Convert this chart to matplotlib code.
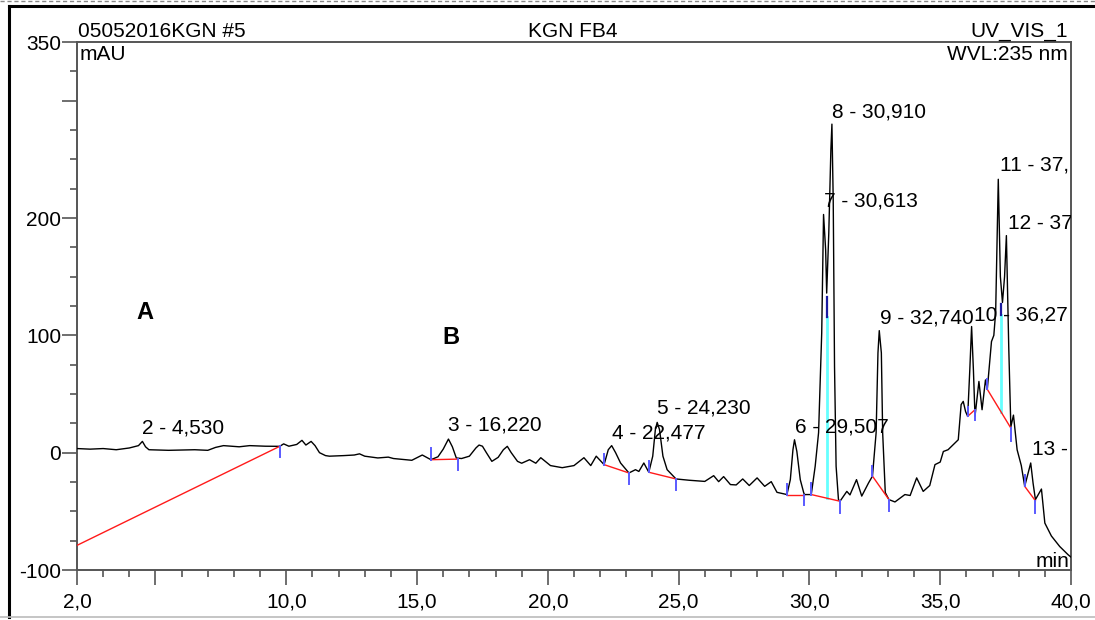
import matplotlib
matplotlib.use("Agg")
import matplotlib.pyplot as plt
from matplotlib.lines import Line2D
from matplotlib.ticker import MultipleLocator

plt.rcParams["font.family"] = ["Liberation Sans", "DejaVu Sans"]

# chromatogram trace, UV 235 nm (min, mAU)
time_min = [
    2.00, 2.5, 3.0, 3.5, 4.0, 4.35, 4.50, 4.62, 4.75, 5.5, 6.5, 7.0, 7.3, 7.6,
    8.2, 8.6, 9.2, 9.75, 9.9, 10.1, 10.4, 10.6, 10.75, 10.95, 11.1, 11.27,
    11.5, 11.65, 12.2, 12.6, 12.8, 13.0, 13.5, 13.9, 14.1, 14.8, 15.2, 15.53,
    15.8, 16.0, 16.2, 16.35, 16.5, 16.7, 17.0, 17.25, 17.37, 17.5, 17.65,
    17.86, 18.1, 18.3, 18.45, 18.6, 18.84, 19.0, 19.3, 19.54, 19.73, 20.1,
    20.55, 21.0, 21.38, 21.64, 21.85, 22.15, 22.31, 22.44, 22.59, 22.78,
    23.1, 23.35, 23.48, 23.67, 23.86, 24.01, 24.11, 24.18, 24.27, 24.4,
    24.56, 24.9, 25.4, 26.0, 26.34, 26.53, 26.72, 26.98, 27.2, 27.45, 27.7,
    28.0, 28.29, 28.54, 28.76, 29.14, 29.27, 29.37, 29.43, 29.52, 29.65,
    29.78, 29.81, 30.07, 30.22, 30.35, 30.47, 30.54, 30.62, 30.66, 30.74,
    30.82, 30.86, 30.91, 30.96, 31.02, 31.11, 31.17, 31.43, 31.55, 31.8,
    32.0, 32.26, 32.41, 32.55, 32.62, 32.67, 32.75, 32.8, 32.9, 33.04,
    33.27, 33.65, 33.85, 34.1, 34.35, 34.6, 34.8, 35.0, 35.12, 35.3, 35.5,
    35.69, 35.8, 35.88, 35.97, 36.05, 36.13, 36.2, 36.27, 36.33, 36.48,
    36.6, 36.73, 36.8, 36.96, 37.05, 37.12, 37.22, 37.3, 37.38, 37.46,
    37.53, 37.62, 37.7, 37.8, 37.94, 38.1, 38.23, 38.33, 38.46, 38.55,
    38.64, 38.87, 39.0, 39.25, 39.57, 39.89, 40.0,
]
mau = [
    3.5, 3.0, 3.5, 2.5, 4.0, 6.0, 9.6, 5.0, 2.5, 2.0, 2.5, 2.0, 4.5, 6.0,
    5.0, 6.0, 5.5, 5.4, 7.5, 5.5, 7.0, 10.5, 6.5, 9.6, 6.0, 0.0,
    -2.5, -3.0, -2.5, -2.0, -1.0, -3.0, -4.5, -3.8, -5.0, -6.5, -2.0, -6.0,
    -3.5, 3.0, 11.6, 5.0, -4.5, -5.0, -3.0, 4.0, 6.5, 5.5, 0.0,
    -7.4, -4.0, 2.5, 5.4, 0.0, -7.4, -9.0, -6.0, -9.0, -4.3, -11.0,
    -12.8, -11.0, -4.3, -11.0, -3.0, -10.2, 2.5, 6.0, 0.0, -8.8,
    -17.3, -14.5, -16.0, -8.8, -16.7, -3.0, 19.6, 25.8, 19.6, -3.0,
    -14.5, -22.4, -23.5, -24.5, -19.6, -24.7, -20.4, -27.2, -27.5, -22.4, -28.0,
    -21.5, -28.7, -24.7, -33.8, -35.7, -23.0, 2.5, 11.0, 1.0, -23.0,
    -34.0, -35.7, -35.7, -11.6, 17.0, 102.0, 203.0, 173.0, 136.0, 187.0,
    258.0, 280.0, 215.0, 73.0, -11.6, -40.0, -41.4, -33.0, -36.0, -23.0,
    -37.0, -25.8, -20.0, 17.0, 85.0, 104.0, 85.0, 17.0, -34.0, -40.0,
    -42.0, -35.7, -36.5, -21.5, -33.0, -28.0, -10.2, -8.0, 1.0, 2.5, 6.8,
    11.0, 41.0, 43.7, 35.0, 31.0, 70.0, 107.5, 70.0, 31.0, 60.7,
    36.6, 62.0, 54.0, 94.7, 100.0, 120.0, 233.0, 150.0, 128.0, 150.0,
    185.0, 90.0, 22.0, 32.0, 2.5, -11.0, -28.7, -20.0, -8.8, -26.0,
    -40.0, -31.0, -60.0, -71.0, -80.0, -87.0, -89.0,
]

# integration baselines (t0, v0, t1, v1)
base_t0 = [2.0, 15.53, 22.15, 23.86, 29.14, 30.07, 32.41, 36.05, 36.8, 38.23]
base_v0 = [-79.0, -6.0, -10.2, -16.7, -35.7, -35.7, -20.0, 31.0, 54.0, -28.7]
base_t1 = [9.75, 16.55, 23.1, 24.9, 29.81, 31.17, 33.04, 36.33, 37.7, 38.64]
base_v1 = [5.4, -5.5, -17.3, -22.4, -35.7, -41.4, -40.0, 36.6, 21.0, -41.0]

# peak delimiters (t, from, to)
delim_t = [9.75, 15.53, 16.55, 22.15, 23.1, 23.86, 24.9, 29.14, 29.81,
           30.07, 31.17, 32.41, 33.04, 36.05, 36.33, 36.8, 37.7, 38.23, 38.64]
delim_lo = [5.4, -6.0, -5.5, -10.2, -17.3, -16.7, -22.4, -35.7, -35.7,
            -35.7, -41.4, -20.0, -40.0, 31.0, 36.6, 54.0, 21.0, -28.7, -41.0]
delim_hi = [-4.0, 4.0, -14.5, -1.0, -27.0, -7.4, -32.0, -26.4, -45.0,
            -26.0, -51.0, -11.6, -50.0, 39.0, 28.0, 63.0, 10.0, -19.0, -51.0]

# drop lines between unresolved peaks (t, baseline, valley)
drop_t = [30.66, 37.32]
drop_lo = [-38.6, 35.0]
drop_hi = [116.0, 117.0]
valley_hi = [133.0, 127.0]

# peak labels: text, retention time, label height (right-hand ones run off the plot)
peak_text = ["2 - 4,530", "3 - 16,220", "4 - 22,477", "5 - 24,230",
             "6 - 29,507", "7 - 30,613", "8 - 30,910", "9 - 32,740",
             "10 - 36,27", "11 - 37,", "12 - 37", "13 -"]
peak_t = [4.50, 16.20, 22.44, 24.18, 29.43, 30.57, 30.86, 32.70,
          36.28, 37.28, 37.60, 38.49]
peak_y = [16.2, 18.7, 11.9, 33.0, 17.3, 210.0, 286.0, 109.8,
          113.0, 240.8, 191.0, -1.7]

xtick_pos = [2, 5, 10, 15, 20, 25, 30, 35, 40]
xtick_lab = ["2,0", "", "10,0", "15,0", "20,0", "25,0", "30,0", "35,0", "40,0"]
ytick_pos = [-100, 0, 100, 200, 300, 350]
ytick_lab = ["-100", "0", "100", "200", "", "350"]

FS = 15
W, H = 1095, 620
fig = plt.figure(figsize=(W / 100, H / 100), dpi=100)
ax = fig.add_axes([77 / W, 1 - 570 / H, (1071 - 77) / W, (570 - 42) / H])

ax.plot(time_min, mau, color="black", lw=1.0, zorder=3)

for t0, v0, t1, v1 in zip(base_t0, base_v0, base_t1, base_v1):
    ax.plot([t0, t1], [v0, v1], color="#ff1a1a", lw=1.0, zorder=4)
for t, lo, hi in zip(delim_t, delim_lo, delim_hi):
    ax.plot([t, t], [lo, hi], color="#5a5aff", lw=1.4, zorder=5)
for t, lo, hi, vh in zip(drop_t, drop_lo, drop_hi, valley_hi):
    ax.plot([t, t], [lo, hi], color="#66ffff", lw=2.0, zorder=2)
    ax.plot([t, t], [hi, vh], color="#1a1aa0", lw=1.6, zorder=5)

for s, t, y in zip(peak_text, peak_t, peak_y):
    ax.text(t, y, s, fontsize=FS, ha="left", va="baseline", clip_on=True)

ax.text(4.6, 119.5, "A", fontsize=17, fontweight="bold", ha="center", va="center")
ax.text(16.3, 98.5, "B", fontsize=17, fontweight="bold", ha="center", va="center")

ax.set_xlim(2, 40)
ax.set_ylim(-100, 350)
ax.set_xticks(xtick_pos)
ax.set_xticklabels(xtick_lab)
ax.set_yticks(ytick_pos)
ax.set_yticklabels(ytick_lab)
ax.xaxis.set_minor_locator(MultipleLocator(1))
ax.yaxis.set_minor_locator(MultipleLocator(25))
ax.tick_params(which="major", length=11, width=1.2, color="#555555",
               labelsize=FS, direction="out")
ax.tick_params(which="minor", length=5, width=1.2, color="#555555",
               direction="out")
ax.tick_params(axis="x", which="major", pad=5)
ax.tick_params(axis="y", which="major", pad=0.5)
for sp in ax.spines.values():
    sp.set_color("#555555")
    sp.set_linewidth(1.4)

# header and unit captions
def ftext(x, y, s, ha="left", **kw):
    fig.text(x / W, 1 - y / H, s, ha=ha, va="baseline", fontsize=FS, **kw)

ftext(78, 37, "05052016KGN #5")
ftext(573, 37, "KGN FB4", ha="center")
ftext(1068, 37, "UV_VIS_1", ha="right")
ftext(80, 60, "mAU")
ftext(1068, 60, "WVL:235 nm", ha="right")
ftext(1069, 567, "min", ha="right")

# page frame
fig.add_artist(Line2D([0, 1], [1 - 1 / H, 1 - 1 / H], color="#888888",
                      lw=1.0, ls=(0, (3, 2))))
fig.add_artist(Line2D([8.5 / W, 1], [1 - 6 / H, 1 - 6 / H], color="black", lw=2.2))
fig.add_artist(Line2D([8.5 / W, 8.5 / W], [1 - 6 / H, 1 - 617 / H],
                      color="black", lw=2.2))
fig.add_artist(Line2D([0, 1], [1 - 617 / H, 1 - 617 / H], color="#bbbbbb", lw=1.2))

fig.savefig("out.png", dpi=100)
